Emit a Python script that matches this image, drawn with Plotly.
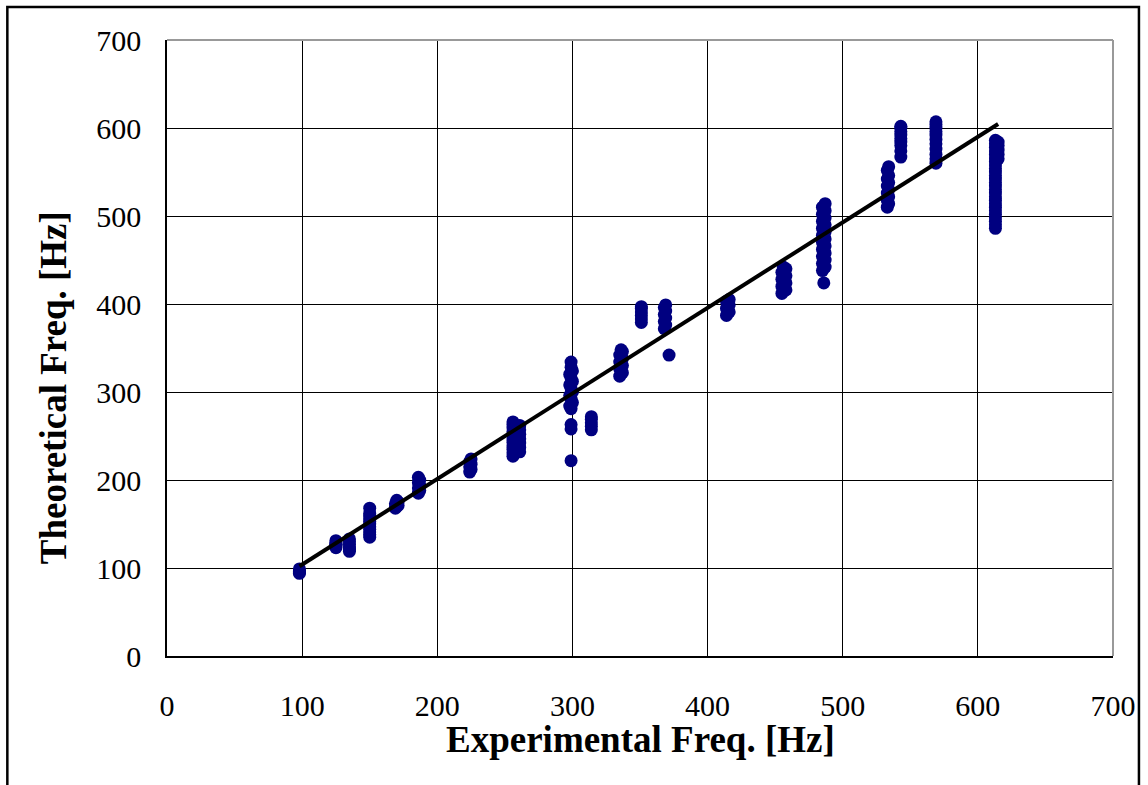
import plotly.graph_objects as go

# Experimental vs theoretical frequency samples, grouped by measured mode
exp_freq = (
    [98, 98, 98, 98, 98]
    + [125, 125, 125, 125, 125, 125]
    + [135, 135, 135, 135, 135, 135, 135]
    + [150, 150, 150, 150, 150, 150, 150, 150, 150, 150, 150]
    + [169, 171, 169, 171, 170, 170]
    + [186, 187, 186, 187, 186, 187, 186]
    + [224, 225, 224, 225, 224, 225]
    + [256, 256, 256, 256, 256, 256, 256, 256, 256, 256, 256]
    + [261, 261, 261, 261, 261, 261, 261]
    + [299, 298, 300, 299, 298, 300, 299, 298, 300, 299, 298, 300, 299, 299]
    + [299, 299, 299]
    + [314, 314, 314, 314, 314]
    + [335, 337, 335, 337, 335, 337, 335, 337, 336]
    + [351, 351, 351, 351, 351, 351]
    + [368, 369, 368, 369, 368, 369, 368, 369, 371.5]
    + [414, 416, 414, 416, 414, 416]
    + [455, 458, 455, 458, 455, 458, 455, 458, 456]
    + [485, 487, 485, 487, 485, 487, 485, 487, 485, 487,
       485, 487, 485, 487, 485, 487, 485, 487, 485, 487, 486]
    + [533, 534, 533, 534, 533, 534, 533, 534, 533, 534, 533, 534]
    + [543, 543, 543, 543, 543, 543, 543, 543, 543]
    + [569, 569, 569, 569, 569, 569, 569, 569, 569, 569, 569]
    + [613, 613, 613, 613, 613, 613, 613, 613, 613, 613, 613, 613, 613,
       613, 613, 613, 613, 613, 613, 613, 613, 613, 613, 613, 613, 613]
    + [615, 615, 615, 615, 615]
)
theo_freq = (
    [94, 96, 97, 99, 95]
    + [123, 125, 127, 129, 131, 126]
    + [119, 121, 124, 127, 130, 133, 122]
    + [135, 138, 141, 144, 147, 150, 153, 156, 159, 162, 168]
    + [168, 171, 173, 175, 177, 170]
    + [185, 188, 191, 194, 197, 200, 203]
    + [209, 212, 215, 218, 221, 224]
    + [227, 231, 235, 239, 243, 247, 251, 255, 259, 263, 266]
    + [232, 237, 242, 247, 252, 257, 262]
    + [281, 284, 288, 292, 296, 300, 304, 308, 312, 316, 320, 324, 328, 334]
    + [258, 263, 222]
    + [257, 261, 265, 269, 272]
    + [318, 322, 326, 330, 334, 338, 342, 346, 348]
    + [379, 383, 387, 391, 395, 397]
    + [372, 376, 380, 384, 388, 392, 396, 399, 342]
    + [387, 391, 395, 399, 403, 405]
    + [412, 416, 420, 424, 428, 432, 436, 440, 442]
    + [438, 442, 446, 450, 454, 458, 462, 466, 470, 474,
       478, 482, 486, 490, 494, 498, 502, 506, 510, 514, 424]
    + [510, 514, 518, 522, 526, 530, 534, 538, 542, 546, 552, 556]
    + [567, 574, 580, 584, 588, 592, 596, 600, 602]
    + [560, 565, 570, 576, 582, 587, 592, 596, 600, 604, 607]
    + [486, 490, 494, 498, 502, 506, 510, 514, 518, 522, 526, 530, 534,
       538, 542, 546, 550, 554, 558, 562, 566, 570, 574, 578, 582, 586]
    + [565, 570, 575, 580, 584]
)

fit_x = [98, 615]
fit_y = [102, 604.5]

tick_vals = [0, 100, 200, 300, 400, 500, 600, 700]
tick_text = ["0", "100", "200", "300", "400", "500", "600", "700"]

FONT = "Times New Roman, Liberation Serif, serif"

fig = go.Figure()
fig.add_trace(go.Scatter(
    x=exp_freq, y=theo_freq, mode="markers",
    marker=dict(color="#000080", size=13, line=dict(width=0)),
    showlegend=False, hoverinfo="x+y",
))
fig.add_trace(go.Scatter(
    x=fit_x, y=fit_y, mode="lines",
    line=dict(color="black", width=4),
    showlegend=False,
))

axis_common = dict(
    range=[0, 700], tickvals=tick_vals, ticktext=tick_text,
    showgrid=True, gridcolor="black", gridwidth=1,
    showline=True, linecolor="black", linewidth=1.5,
    ticks="inside", ticklen=8, tickcolor="black", tickwidth=1,
    zeroline=False, tickfont=dict(family=FONT, size=30, color="black"),
    fixedrange=True,
)

fig.update_layout(
    width=1148, height=785,
    margin=dict(l=167, r=33, t=40, b=129),
    paper_bgcolor="white", plot_bgcolor="white",
    xaxis=dict(**axis_common, ticklabelstandoff=22),
    yaxis=dict(**axis_common, ticklabelstandoff=18),
    shapes=[
        # gray top and right plot border
        dict(type="line", xref="paper", yref="paper", x0=0, x1=1, y0=1, y1=1,
             line=dict(color="#999999", width=2)),
        dict(type="line", xref="paper", yref="paper", x0=1, x1=1, y0=0, y1=1,
             line=dict(color="#999999", width=2)),
        # outer chart frame
        dict(type="rect", xref="paper", yref="paper",
             x0=(7 - 167) / 948, x1=(1141 - 167) / 948,
             y0=(656 - 800) / 616, y1=(656 - 7) / 616,
             line=dict(color="black", width=2.5), fillcolor="rgba(0,0,0,0)"),
    ],
    annotations=[
        dict(text="<b>Experimental Freq. [Hz]</b>", xref="paper", yref="paper",
             x=0.5, y=(656 - 740) / 616, xanchor="center", yanchor="middle",
             showarrow=False, font=dict(family=FONT, size=37, color="black")),
        dict(text="<b>Theoretical Freq. [Hz]</b>", xref="paper", yref="paper",
             x=(53 - 167) / 948, y=(656 - 388) / 616, xanchor="center",
             yanchor="middle", textangle=-90,
             showarrow=False, font=dict(family=FONT, size=37, color="black")),
    ],
)

fig.write_html("out.html")
